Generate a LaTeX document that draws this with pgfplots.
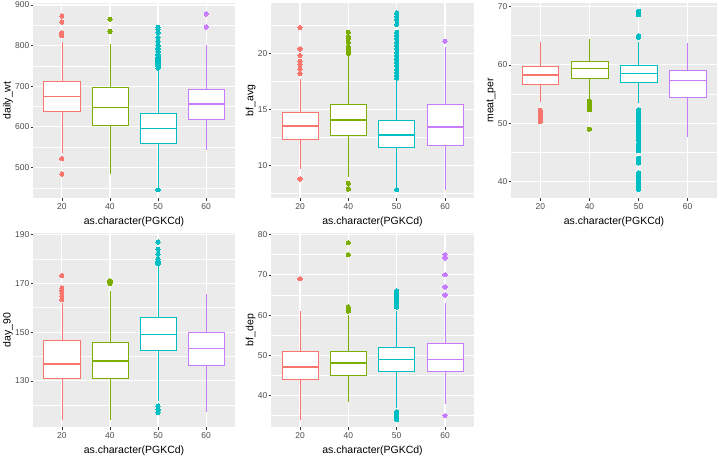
\documentclass[border=0pt]{standalone}
\usepackage{fontspec}
\setmainfont{Liberation Sans}
\usepackage{pgfplots}
\pgfplotsset{compat=1.18}
\usepgfplotslibrary{statistics}
\definecolor{ggbg}{HTML}{EBEBEB}
\definecolor{cA}{HTML}{F8766D}
\definecolor{cB}{HTML}{7CAE00}
\definecolor{cC}{HTML}{00BFC4}
\definecolor{cD}{HTML}{C77CFF}
\definecolor{tl}{HTML}{4D4D4D}
\definecolor{tk}{HTML}{333333}
\pgfplotsset{
 gg/.style={
  scale only axis,
  anchor=north west,
  xmin=0.4, xmax=4.6,
  xtick={1,2,3,4}, xticklabels={20,40,50,60},
  axis background/.style={fill=ggbg},
  axis line style={draw=none},
  tick align=outside, tick pos=left,
  major tick length=2.5pt,
  minor tick length=0pt,
  tick style={tk, line width=0.5pt},
  xmajorgrids, ymajorgrids, yminorgrids,
  major grid style={white, line width=1.1pt},
  minor grid style={white, line width=0.55pt},
  ticklabel style={font=\fontsize{8.5}{10}\selectfont, text=tl},
  yticklabel style={inner sep=1pt},
  /pgf/number format/assume math mode=true,
  label style={font=\fontsize{10.5}{12}\selectfont},
  ylabel style={inner sep=1pt},
  xlabel={as.character(PGKCd)},
  boxplot/draw direction=y,
  boxplot/box extend=0.75,
  boxplot/whisker extend=0,
  boxplot/every median/.style={line width=1.6pt},
 },
 bp/.style={draw=#1, fill=white, line width=0.7pt, solid, mark=*, mark size=2.1pt,
   mark options={fill=#1, draw=#1, line width=0pt}},
}
\begin{document}
\begin{tikzpicture}
\useasboundingbox (0,0) rectangle (719pt,-458pt);
% ---------------- daily_wt
\begin{axis}[gg, at={(33pt,-3pt)}, width=202pt, height=195pt,
  ymin=425, ymax=905, ytick={500,600,700,800,900}, minor ytick={450,550,650,750,850},
  ylabel={daily\_wt}]
\addplot[bp=cA, boxplot prepared={draw position=1, lower whisker=536, lower quartile=639, median=675, upper quartile=713, upper whisker=808}]
 coordinates {(1,873) (1,858) (1,832) (1,828) (1,825) (1,522) (1,484)};
\addplot[bp=cB, boxplot prepared={draw position=2, lower whisker=484, lower quartile=604, median=648, upper quartile=697, upper whisker=804}]
 coordinates {(2,865) (2,835)};
\addplot[bp=cC, boxplot prepared={draw position=3, lower whisker=450, lower quartile=560, median=596, upper quartile=634, upper whisker=742}]
 coordinates {(3,745) (3,748) (3,752) (3,755) (3,758) (3,762) (3,765) (3,768) (3,772) (3,775) (3,778) (3,785) (3,792) (3,800) (3,810) (3,820) (3,832) (3,840) (3,845) (3,445)};
\addplot[bp=cD, boxplot prepared={draw position=4, lower whisker=543, lower quartile=618, median=657, upper quartile=693, upper whisker=802}]
 coordinates {(4,878) (4,846)};
\end{axis}
% ---------------- bf_avg
\begin{axis}[gg, at={(271pt,-3pt)}, width=203pt, height=195pt,
  ymin=7.1, ymax=24.5, ytick={10,15,20}, minor ytick={7.5,12.5,17.5,22.5},
  ylabel={bf\_avg}]
\addplot[bp=cA, boxplot prepared={draw position=1, lower whisker=9.7, lower quartile=12.33, median=13.5, upper quartile=14.7, upper whisker=17.7}]
 coordinates {(1,22.3) (1,20.4) (1,19.8) (1,19.3) (1,19.0) (1,18.6) (1,18.2) (1,8.8)};
\addplot[bp=cB, boxplot prepared={draw position=2, lower whisker=9.0, lower quartile=12.7, median=14.04, upper quartile=15.48, upper whisker=19.8}]
 coordinates {(2,20.0) (2,20.2) (2,20.4) (2,20.6) (2,21.0) (2,21.3) (2,21.5) (2,21.9) (2,8.4) (2,7.9)};
\addplot[bp=cC, boxplot prepared={draw position=3, lower whisker=8.1, lower quartile=11.65, median=12.73, upper quartile=14.07, upper whisker=17.6}]
 coordinates {(3,17.8) (3,18.0) (3,18.3) (3,18.6) (3,18.9) (3,19.2) (3,19.5) (3,19.8) (3,20.1) (3,20.4) (3,20.7) (3,21.0) (3,21.3) (3,21.6) (3,21.9) (3,22.6) (3,23.0) (3,23.3) (3,23.6) (3,7.85)};
\addplot[bp=cD, boxplot prepared={draw position=4, lower whisker=7.8, lower quartile=11.77, median=13.42, upper quartile=15.48, upper whisker=20.6}]
 coordinates {(4,21.1)};
\end{axis}
% ---------------- meat_per
\begin{axis}[gg, at={(511pt,-3pt)}, width=206pt, height=195pt,
  ymin=37.2, ymax=70.6, ytick={40,50,60,70}, minor ytick={45,55,65},
  ylabel={meat\_per}]
\addplot[bp=cA, boxplot prepared={draw position=1, lower whisker=53.7, lower quartile=56.7, median=58.3, upper quartile=59.8, upper whisker=64.0}]
 coordinates {(1,52.2) (1,51.8) (1,51.4) (1,51.0) (1,50.6) (1,50.3)};
\addplot[bp=cB, boxplot prepared={draw position=2, lower whisker=54.4, lower quartile=57.7, median=59.4, upper quartile=60.6, upper whisker=64.4}]
 coordinates {(2,53.8) (2,53.5) (2,53.2) (2,52.9) (2,52.6) (2,52.3) (2,49.0)};
\addplot[bp=cC, boxplot prepared={draw position=3, lower whisker=53.5, lower quartile=57.0, median=58.5, upper quartile=59.9, upper whisker=64.0}]
 coordinates {(3,69.2) (3,68.9) (3,68.6) (3,65.0) (3,64.7)
 (3,52.3) (3,51.9) (3,51.5) (3,51.1) (3,50.7) (3,50.3) (3,49.9) (3,49.5) (3,49.1) (3,48.7) (3,48.3) (3,47.9) (3,47.5) (3,47.1)
 (3,46.5) (3,46.1) (3,45.7) (3,45.3) (3,44.0) (3,43.6) (3,43.2) (3,41.5) (3,41.1) (3,40.7) (3,40.3) (3,39.9) (3,39.5) (3,39.1) (3,38.7)};
\addplot[bp=cD, boxplot prepared={draw position=4, lower whisker=47.7, lower quartile=54.5, median=57.3, upper quartile=59.1, upper whisker=63.7}]
 coordinates {};
\end{axis}
% ---------------- day_90
\begin{axis}[gg, at={(33pt,-233pt)}, width=202pt, height=194pt,
  ymin=111, ymax=190.7, ytick={130,150,170,190}, minor ytick={120,140,160,180},
  ylabel={day\_90}]
\addplot[bp=cA, boxplot prepared={draw position=1, lower whisker=114, lower quartile=131, median=137, upper quartile=146.8, upper whisker=162}]
 coordinates {(1,163.3) (1,164.7) (1,166) (1,167) (1,168.1) (1,173.2)};
\addplot[bp=cB, boxplot prepared={draw position=2, lower whisker=114, lower quartile=131, median=138, upper quartile=145.8, upper whisker=167}]
 coordinates {(2,170) (2,170.5) (2,171)};
\addplot[bp=cC, boxplot prepared={draw position=3, lower whisker=121.5, lower quartile=142.5, median=149, upper quartile=156, upper whisker=177}]
 coordinates {(3,178) (3,178.5) (3,179) (3,180) (3,182) (3,184) (3,187) (3,119.6) (3,118.1) (3,117)};
\addplot[bp=cD, boxplot prepared={draw position=4, lower whisker=117, lower quartile=136.2, median=143.2, upper quartile=149.9, upper whisker=165.7}]
 coordinates {};
\end{axis}
% ---------------- bf_dep
\begin{axis}[gg, at={(271pt,-233pt)}, width=203pt, height=194pt,
  ymin=32.2, ymax=80.4, ytick={40,50,60,70,80}, minor ytick={35,45,55,65,75},
  ylabel={bf\_dep}]
\addplot[bp=cA, boxplot prepared={draw position=1, lower whisker=34, lower quartile=44, median=47.1, upper quartile=51, upper whisker=61}]
 coordinates {(1,69)};
\addplot[bp=cB, boxplot prepared={draw position=2, lower whisker=38.3, lower quartile=45.1, median=48.1, upper quartile=51, upper whisker=60}]
 coordinates {(2,61) (2,61.5) (2,62) (2,75) (2,78)};
\addplot[bp=cC, boxplot prepared={draw position=3, lower whisker=37, lower quartile=46, median=49, upper quartile=52, upper whisker=61}]
 coordinates {(3,62) (3,62.5) (3,63) (3,63.5) (3,64) (3,64.5) (3,65) (3,65.5) (3,66) (3,36) (3,35.5) (3,35) (3,34.5) (3,34)};
\addplot[bp=cD, boxplot prepared={draw position=4, lower whisker=38, lower quartile=46, median=49, upper quartile=53, upper whisker=63}]
 coordinates {(4,65) (4,67) (4,70) (4,74.2) (4,75) (4,35)};
\end{axis}
\end{tikzpicture}
\end{document}
